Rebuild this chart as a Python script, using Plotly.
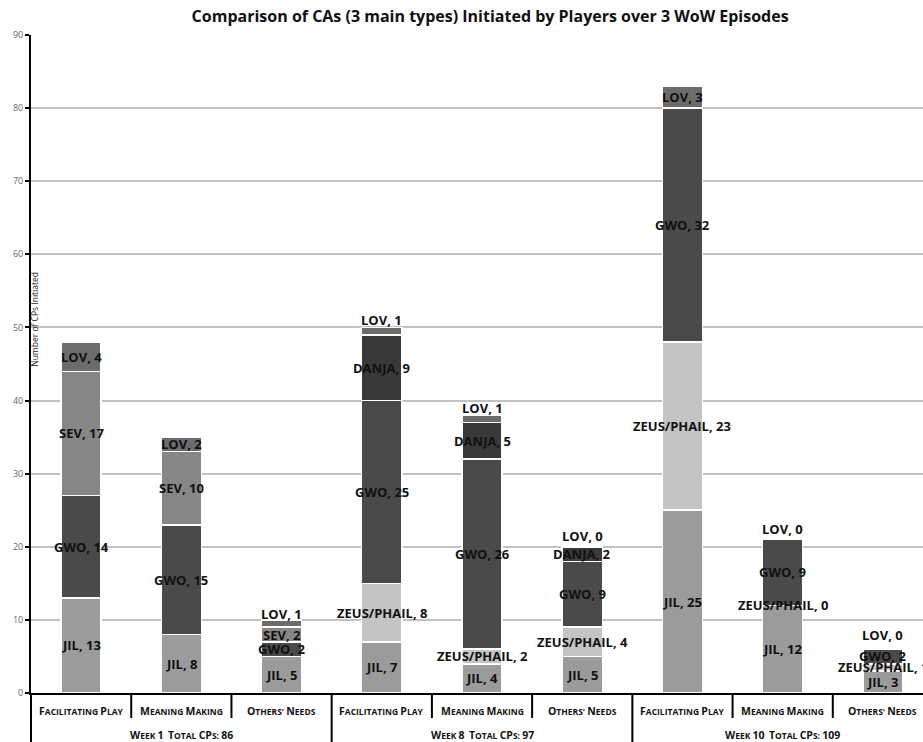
import plotly.graph_objects as go

# ---- data -------------------------------------------------------------
WEEKS = ["Week 1", "Week 8", "Week 10"]
WEEK_TOTALS = [86, 97, 109]
CATEGORIES = ["Facilitating Play", "Meaning Making", "Others' Needs"]

# one value per bar: (Week 1: FP, MM, ON), (Week 8: FP, MM, ON), (Week 10: FP, MM, ON)
JIL = [13, 8, 5, 7, 4, 5, 25, 12, 3]
ZEUS_PHAIL = [None, None, None, 8, 2, 4, 23, 0, 1]
GWO = [14, 15, 2, 25, 26, 9, 32, 9, 2]
SEV = [17, 10, 2, None, None, None, None, None, None]
DANJA = [None, None, None, 9, 5, 2, None, None, None]
LOV = [4, 2, 1, 1, 1, 0, 3, 0, 0]

SERIES = [
    ("JIL", JIL, "#9b9b9b"),
    ("ZEUS/PHAIL", ZEUS_PHAIL, "#c4c4c4"),
    ("GWO", GWO, "#4a4a4a"),
    ("SEV", SEV, "#868686"),
    ("DANJA", DANJA, "#393939"),
    ("LOV", LOV, "#6c6c6c"),
]

# labels of thin top segments are lifted above the bar (pixels)
LABEL_LIFT = {("LOV", 2): 10, ("LOV", 3): 11, ("LOV", 4): 11,
              ("LOV", 5): 11, ("LOV", 7): 10, ("LOV", 8): 14}

FONT = "Open Sans"
N_BARS = len(WEEKS) * len(CATEGORIES)
X_RANGE = [-0.5, 8.4]
Y_RANGE = [0, 90]


def small_caps(text, big=10.5, small=8.5):
    """Render text as bold small caps using sized spans."""
    out, cur, cur_small = [], "", None
    for ch in text:
        is_small = not (ch.isupper() or ch.isdigit())
        if cur_small is None or is_small == cur_small:
            cur += ch
        else:
            out.append((cur, cur_small))
            cur = ch
        cur_small = is_small
    if cur:
        out.append((cur, cur_small))
    html = ""
    for chunk, is_small in out:
        size = small if is_small else big
        html += f'<span style="font-size:{size}px;font-weight:bold">{chunk.upper()}</span>'
    return html


fig = go.Figure()
xs = list(range(N_BARS))
annotations = []
base = [0.0] * N_BARS

for name, vals, color in SERIES:
    fig.add_trace(go.Bar(
        x=xs, y=vals, name=name, width=0.4,
        marker=dict(color=color, line=dict(color="white", width=1.5)),
        hoverinfo="name+y",
    ))
    for i, v in enumerate(vals):
        if v is None:
            continue
        annotations.append(dict(
            x=i, y=base[i] + v / 2, xref="x", yref="y",
            text=f"{name}, {v}", showarrow=False,
            font=dict(family=FONT, size=13, color="#111", weight="bold"),
            yshift=LABEL_LIFT.get((name, i), 0),
        ))
        base[i] += v

# category labels and week labels under the axis
for w, (week, total) in enumerate(zip(WEEKS, WEEK_TOTALS)):
    for c, cat in enumerate(CATEGORIES):
        annotations.append(dict(
            x=w * len(CATEGORIES) + c, y=-0.0274, xref="x", yref="paper",
            text=small_caps(cat), showarrow=False,
            yanchor="middle",
            font=dict(family=FONT, size=10.5, color="#111", weight="bold"),
        ))
    annotations.append(dict(
        x=w * len(CATEGORIES) + (len(CATEGORIES) - 1) / 2, y=-0.0638,
        xref="x", yref="paper",
        text=small_caps(f"{week}  Total CPs: {total}"),
        showarrow=False, yanchor="middle",
        font=dict(family=FONT, size=10.5, color="#111", weight="bold"),
    ))

# y-axis title
annotations.append(dict(
    x=-0.0045, y=0.568, xref="paper", yref="paper",
    text="Number of CPs Initiated", textangle=-90, showarrow=False,
    font=dict(family=FONT, size=8.5, color="#222"),
))

# table divider lines below the axis
shapes = []
for k in range(N_BARS - 1):
    bound = k + 0.5
    is_week = (k + 1) % len(CATEGORIES) == 0
    shapes.append(dict(
        type="line", xref="x", yref="paper", x0=bound, x1=bound,
        y0=0, y1=-0.0745 if is_week else -0.038,
        line=dict(color="black", width=2),
    ))
shapes.append(dict(
    type="line", xref="paper", yref="paper", x0=0, x1=0, y0=0, y1=-0.0745,
    line=dict(color="black", width=2),
))

fig.update_layout(
    width=923, height=742,
    margin=dict(l=31, r=0, t=35, b=49),
    barmode="stack",
    showlegend=False,
    paper_bgcolor="white",
    plot_bgcolor="white",
    title=dict(
        text="Comparison of CAs (3 main types) Initiated by Players over 3 WoW Episodes",
        x=0.531, xanchor="center", xref="container",
        y=0.978, yanchor="middle", yref="container",
        font=dict(family=FONT, size=16, color="#111", weight="bold"),
    ),
    xaxis=dict(
        range=X_RANGE, showticklabels=False, ticks="", showgrid=False,
        zeroline=False, showline=True, linecolor="black", linewidth=2,
        fixedrange=True,
    ),
    yaxis=dict(
        range=Y_RANGE, dtick=10, showgrid=True, gridcolor="#c2c2c2",
        gridwidth=1.5, zeroline=False, showline=True, linecolor="black",
        linewidth=2, ticks="outside", ticklen=4, tickcolor="black",
        tickwidth=1.5, tickfont=dict(family=FONT, size=9, color="#666"),
        fixedrange=True,
    ),
    annotations=annotations,
    shapes=shapes,
)

fig.write_html("out.html")
